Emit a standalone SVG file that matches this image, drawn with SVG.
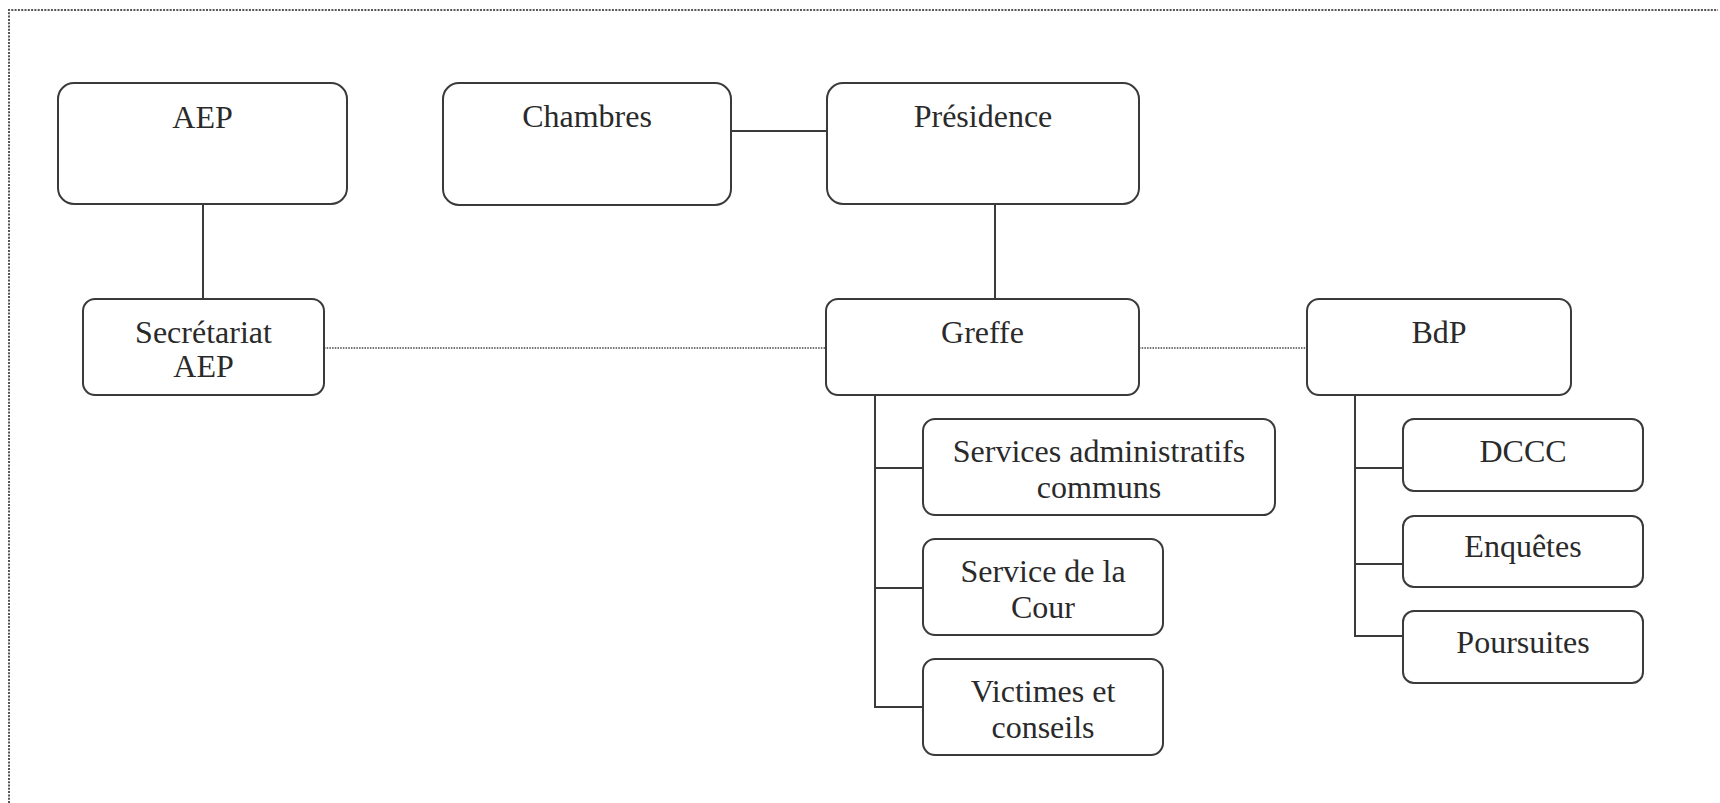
<svg xmlns="http://www.w3.org/2000/svg" width="1720" height="803" viewBox="0 0 1720 803">
<style>
.box{fill:#fff;stroke:#3a3a3a;stroke-width:2}
.t{font-family:"Liberation Serif","Times New Roman",serif;font-size:32px;fill:#2a2a2a;text-anchor:middle}
.ln{fill:none;stroke:#3a3a3a;stroke-width:2}
.dot{fill:none;stroke:#444;stroke-width:1.3;stroke-dasharray:1.5 1.2}
.frame{fill:none;stroke:#555;stroke-width:2;stroke-dasharray:2 1.3}
</style>
<rect width="1720" height="803" fill="#fff"/>
<path class="frame" d="M9,803 V10 H1718"/>
<g id="connectors">
<path class="ln" d="M203,204 V299"/>
<path class="ln" d="M731,131 H827"/>
<path class="ln" d="M995,204 V299"/>
<path class="dot" d="M324,348 H826"/>
<path class="dot" d="M1139,348 H1307"/>
<path class="ln" d="M875,395 V707 H923 M875,468 H923 M875,588 H923"/>
<path class="ln" d="M1355,395 V636 H1403 M1355,468 H1403 M1355,564 H1403"/>
</g>
<g id="aep"><rect class="box" x="58" y="83" width="289" height="121" rx="16"/><text class="t" x="202.5" y="128">AEP</text></g>
<g id="chambres"><rect class="box" x="443" y="83" width="288" height="122" rx="16"/><text class="t" x="587" y="127">Chambres</text></g>
<g id="presidence"><rect class="box" x="827" y="83" width="312" height="121" rx="16"/><text class="t" x="983" y="127">Présidence</text></g>
<g id="secretariat"><rect class="box" x="83" y="299" width="241" height="96" rx="12"/><text class="t" x="203.5" y="343">Secrétariat</text><text class="t" x="203.5" y="377">AEP</text></g>
<g id="greffe"><rect class="box" x="826" y="299" width="313" height="96" rx="12"/><text class="t" x="982.5" y="343">Greffe</text></g>
<g id="bdp"><rect class="box" x="1307" y="299" width="264" height="96" rx="12"/><text class="t" x="1439" y="343">BdP</text></g>
<g id="services-admin"><rect class="box" x="923" y="419" width="352" height="96" rx="12"/><text class="t" x="1099" y="462">Services administratifs</text><text class="t" x="1099" y="498">communs</text></g>
<g id="service-cour"><rect class="box" x="923" y="539" width="240" height="96" rx="12"/><text class="t" x="1043" y="582">Service de la</text><text class="t" x="1043" y="618">Cour</text></g>
<g id="victimes"><rect class="box" x="923" y="659" width="240" height="96" rx="12"/><text class="t" x="1043" y="702">Victimes et</text><text class="t" x="1043" y="738">conseils</text></g>
<g id="dccc"><rect class="box" x="1403" y="419" width="240" height="72" rx="11"/><text class="t" x="1523" y="462">DCCC</text></g>
<g id="enquetes"><rect class="box" x="1403" y="516" width="240" height="71" rx="11"/><text class="t" x="1523" y="557">Enquêtes</text></g>
<g id="poursuites"><rect class="box" x="1403" y="611" width="240" height="72" rx="11"/><text class="t" x="1523" y="653">Poursuites</text></g>
</svg>
